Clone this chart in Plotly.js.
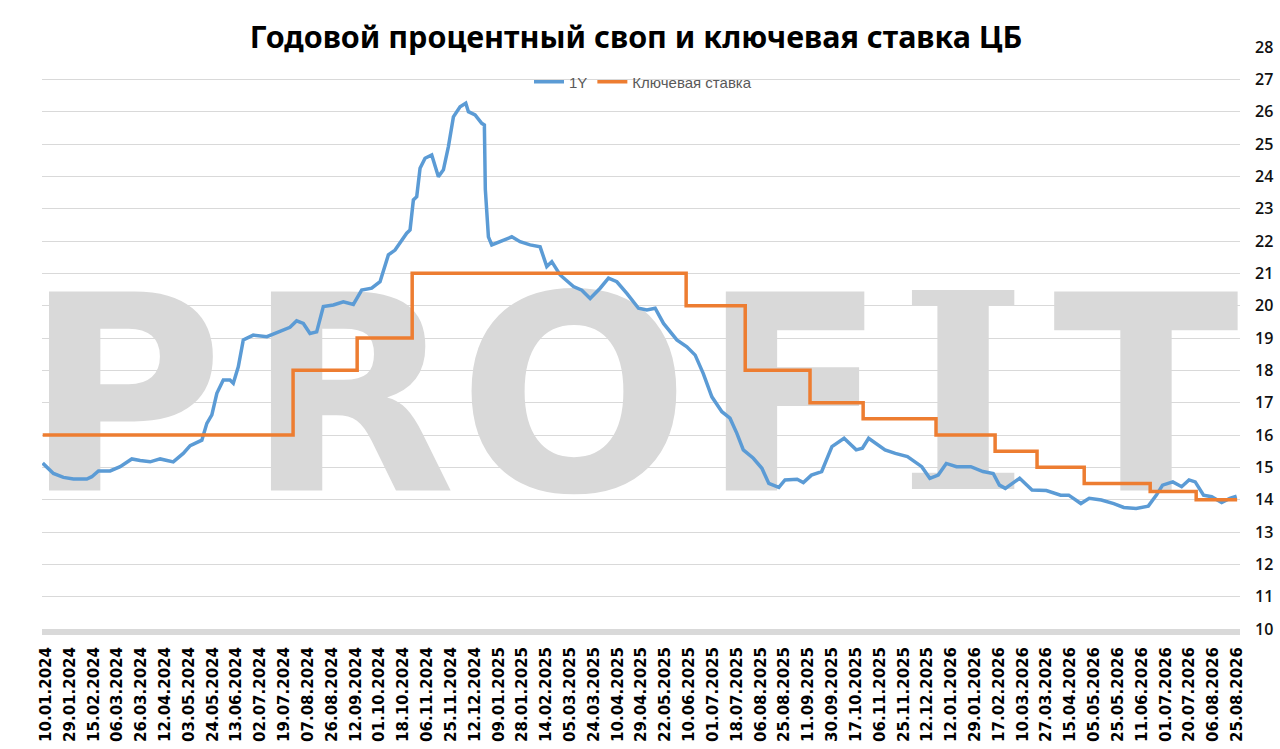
<!DOCTYPE html>
<html>
<head>
<meta charset="utf-8">
<script src="https://cdn.plot.ly/plotly-3.0.1.min.js"></script>
<style>html,body{margin:0;padding:0;background:#fff;}#chart{width:1280px;height:749px;}</style>
</head>
<body>
<div id="chart"></div>
<script>
// Tick labels (one per label step on the category-like date axis)
const tickLabels = ["10.01.2024","29.01.2024","15.02.2024","06.03.2024","26.03.2024","12.04.2024","03.05.2024","24.05.2024","13.06.2024","02.07.2024","19.07.2024","07.08.2024","26.08.2024","12.09.2024","01.10.2024","18.10.2024","06.11.2024","25.11.2024","12.12.2024","09.01.2025","28.01.2025","14.02.2025","05.03.2025","24.03.2025","10.04.2025","29.04.2025","22.05.2025","10.06.2025","01.07.2025","18.07.2025","06.08.2025","25.08.2025","11.09.2025","30.09.2025","17.10.2025","06.11.2025","25.11.2025","12.12.2025","12.01.2026","29.01.2026","17.02.2026","10.03.2026","27.03.2026","15.04.2026","05.05.2026","25.05.2026","11.06.2026","01.07.2026","20.07.2026","06.08.2026","25.08.2026"];

// 1Y swap: position along the axis (in label steps) and value, %
const swapPos = [-0.14,0.03,0.31,0.73,1.15,1.71,1.92,2.20,2.69,3.11,3.60,3.95,4.37,4.79,5.34,5.76,6.05,6.54,6.75,6.96,7.17,7.44,7.72,7.86,8.07,8.28,8.70,9.27,9.82,10.24,10.52,10.80,11.08,11.36,11.64,12.06,12.48,12.90,13.25,13.67,14.02,14.37,14.65,15.14,15.28,15.42,15.56,15.70,15.91,16.19,16.47,16.68,16.89,17.10,17.38,17.62,17.73,18.01,18.29,18.40,18.44,18.57,18.71,19.06,19.55,19.90,20.32,20.74,21.02,21.23,21.58,22.14,22.49,22.84,23.26,23.61,23.96,24.38,24.87,25.22,25.57,25.92,26.48,26.90,27.25,27.59,27.95,28.37,28.71,29.00,29.27,29.69,30.05,30.34,30.76,31.02,31.53,31.79,32.13,32.56,32.99,33.50,34.01,34.27,34.53,35.22,35.65,36.16,36.76,37.10,37.45,37.79,38.22,38.82,39.33,39.76,40.02,40.27,40.87,41.39,41.99,42.59,42.93,43.44,43.79,44.30,44.82,45.24,45.76,46.27,46.61,46.87,47.30,47.67,47.98,48.24,48.59,48.93,49.35,49.69,49.98];
const swap1Y = [15.13,15.02,14.81,14.69,14.64,14.64,14.71,14.89,14.89,15.02,15.26,15.21,15.17,15.26,15.17,15.43,15.67,15.84,16.36,16.62,17.29,17.70,17.70,17.60,18.11,18.94,19.09,19.04,19.19,19.33,19.53,19.45,19.14,19.19,19.97,20.02,20.12,20.04,20.48,20.54,20.74,21.57,21.72,22.24,22.34,23.27,23.37,24.25,24.56,24.66,23.99,24.20,24.92,25.84,26.15,26.26,26.00,25.90,25.64,25.59,23.60,22.13,21.88,21.98,22.13,21.98,21.88,21.82,21.21,21.36,20.95,20.59,20.48,20.22,20.54,20.85,20.74,20.38,19.92,19.87,19.92,19.45,18.94,18.73,18.47,17.90,17.18,16.72,16.52,16.05,15.54,15.28,14.97,14.50,14.38,14.61,14.63,14.53,14.76,14.87,15.64,15.90,15.54,15.59,15.90,15.54,15.43,15.33,15.02,14.66,14.76,15.12,15.02,15.02,14.87,14.81,14.45,14.35,14.66,14.30,14.28,14.14,14.14,13.88,14.04,13.99,13.88,13.76,13.73,13.80,14.14,14.45,14.55,14.40,14.61,14.55,14.14,14.09,13.91,14.04,14.11];

// Key rate: change points (in label steps) and level, %
const keyRatePos = [-0.14,10.37,13.06,15.37,26.87,29.35,32.07,34.30,37.36,39.84,41.60,43.58,46.35,48.28,50.00];
const keyRate = [16,18,19,21,20,18,17,16.5,16,15.5,15,14.5,14.25,14,14];

const seriesNames = ["1Y","Ключевая ставка"];
const yTicks = [10,11,12,13,14,15,16,17,18,19,20,21,22,23,24,25,26,27,28];
const watermarkLetters = ["P","R","O","F","I","T"];

// ---- layout geometry ----
const W = 1280, H = 749;
const M = {l:42, r:40, t:47, b:120};
const plotW = W - M.l - M.r, plotH = H - M.t - M.b;
const fx = px => (px - M.l) / plotW;
const fy = py => 1 - (py - M.t) / plotH;

const letterCenters = [124, 351, 574, 794, 963, 1146];
const wmCenterY = 376;
const wmShapes = watermarkLetters.map((ch, i) => ({
  type: 'rect', xref: 'paper', yref: 'paper', layer: 'below',
  x0: fx(letterCenters[i] - 110), x1: fx(letterCenters[i] + 110),
  y0: fy(wmCenterY + 110), y1: fy(wmCenterY - 110),
  line: {width: 0}, fillcolor: 'rgba(0,0,0,0)',
  label: {text: ch, textposition: 'middle center',
    font: {family: ch === 'I' ? 'DejaVu Serif' : 'DejaVu Sans', size: 273, color: '#d9d9d9', weight: 'bold'}}
}));

const traces = [
  {x: swapPos, y: swap1Y, name: seriesNames[0], type: 'scatter', mode: 'lines',
   line: {color: '#5b9bd5', width: 3.5}},
  {x: keyRatePos, y: keyRate, name: seriesNames[1], type: 'scatter', mode: 'lines',
   line: {color: '#ed7d31', width: 3.5, shape: 'hv'}}
];

const layout = {
  width: W, height: H,
  margin: M,
  paper_bgcolor: '#ffffff', plot_bgcolor: '#ffffff',
  title: {text: 'Годовой процентный своп и ключевая ставка ЦБ',
    font: {family: 'Noto Sans', size: 30.5, color: '#000', weight: 'bold'},
    x: 636 / W, xref: 'container', xanchor: 'center',
    y: 1 - 37 / H, yref: 'container', yanchor: 'middle'},
  showlegend: true,
  legend: {orientation: 'h', x: fx(643), xanchor: 'center', y: fy(82), yanchor: 'middle',
    bgcolor: 'rgba(0,0,0,0)', font: {family: 'Liberation Sans', size: 15, color: '#595959'},
    itemwidth: 30, tracegroupgap: 0},
  xaxis: {
    range: [-0.17, 50.12], tickmode: 'array',
    tickvals: tickLabels.map((_, i) => i), ticktext: tickLabels,
    tickangle: -90, tickfont: {family: 'DejaVu Sans', size: 15, color: '#000', weight: 'bold'},
    showgrid: false, zeroline: false, showline: true, linecolor: '#d9d9d9', linewidth: 6,
    ticks: '', ticklabelstandoff: 6, fixedrange: true
  },
  yaxis: {
    side: 'right', range: [10, 28], tickmode: 'array', tickvals: yTicks,
    tickfont: {family: 'Open Sans', size: 16, color: '#111', weight: 600},
    showgrid: true, gridcolor: '#d9d9d9', gridwidth: 1, zeroline: false, showline: false,
    ticks: '', ticklabelstandoff: 14, fixedrange: true
  },
  shapes: wmShapes,
  hovermode: false
};

Plotly.newPlot('chart', traces, layout, {displayModeBar: false, staticPlot: true});
</script>
</body>
</html>
